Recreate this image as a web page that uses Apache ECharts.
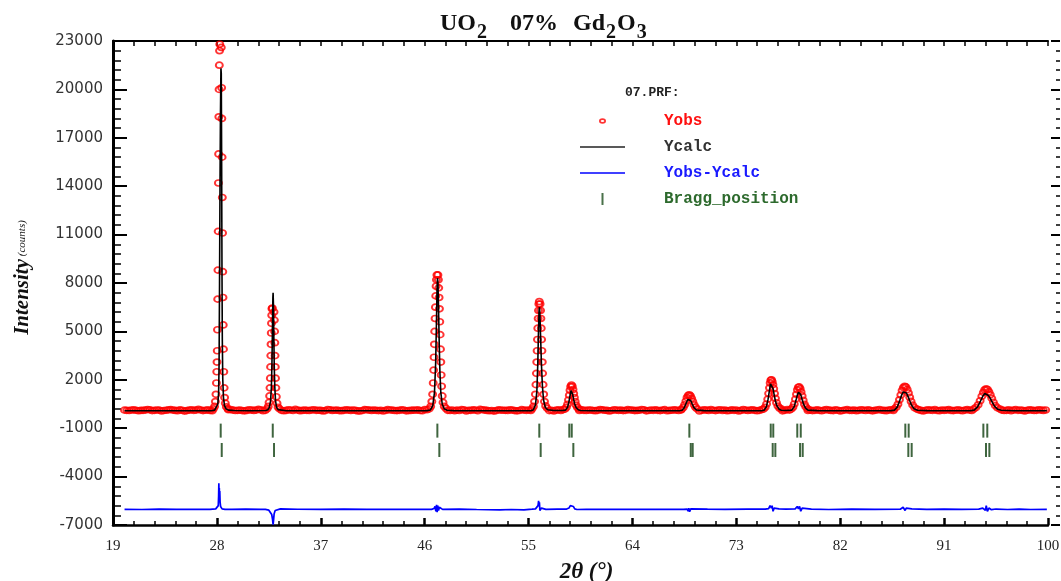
<!DOCTYPE html>
<html>
<head>
<meta charset="utf-8">
<title>UO2 07% Gd2O3</title>
<script src="https://cdn.jsdelivr.net/npm/echarts@6.0.0/dist/echarts.min.js"></script>
<style>
  html, body { margin: 0; padding: 0; background: #fff; }
  #chart { width: 1061px; height: 581px; }
</style>
</head>
<body>
<div id="chart"></div>
<script>
// axis ticks
const xTicks = [19, 28, 37, 46, 55, 64, 73, 82, 91, 100];
const yTicks = [-7000, -4000, -1000, 2000, 5000, 8000, 11000, 14000, 17000, 20000, 23000];

// Yobs background, one value every 0.2 deg starting at 20 deg
const bgStart = 20;
const bgStep = 0.2;
const bgObs = [
  120, 105, 95, 130, 140, 115, 80, 100, 110, 125, 160, 135, 90, 105, 130, 120, 70, 95, 115, 140,
  150, 125, 100, 85, 135, 110, 60, 90, 125, 140, 105, 120, 170, 130, 90, 115, 140, 100, 85, 125,
  110, 95, 80, 105, 130, 145, 155, 120, 95, 110, 120, 90, 75, 100, 145, 125, 100, 120, 165, 140,
  85, 110, 120, 95, 60, 105, 140, 125, 110, 80, 100, 145, 130, 95, 165, 120, 85, 100, 120, 105,
  95, 130, 145, 110, 115, 100, 70, 90, 160, 135, 100, 115, 125, 90, 85, 110, 140, 120, 100, 130,
  110, 70, 65, 95, 150, 140, 120, 100, 125, 105, 90, 110, 65, 100, 150, 130, 120, 95, 90, 110,
  135, 130, 75, 90, 100, 120, 115, 140, 95, 80, 160, 145, 110, 120, 135, 100, 90, 125, 150, 115,
  110, 100, 130, 80, 120, 95, 150, 140, 70, 105, 110, 135, 130, 80, 165, 145, 125, 100, 80, 95,
  60, 90, 135, 125, 115, 105, 100, 140, 120, 90, 75, 95, 150, 120, 110, 130, 100, 135, 115, 90,
  145, 110, 160, 120, 90, 105, 70, 125, 135, 100, 155, 130, 120, 95, 80, 110, 125, 100, 140, 105,
  100, 120, 130, 95, 85, 110, 155, 135, 115, 100, 70, 95, 145, 125, 105, 120, 90, 110, 150, 130,
  125, 90, 100, 115, 160, 140, 75, 95, 130, 110, 135, 105, 90, 120, 150, 80, 100, 115, 140, 125,
  95, 130, 80, 110, 150, 120, 105, 135, 95, 65, 110, 140, 125, 100, 155, 115, 90, 120, 145, 100,
  125, 85, 95, 140, 110, 130, 70, 100, 160, 120, 95, 125, 140, 105, 80, 110, 150, 135, 100, 115,
  90, 120, 145, 100, 130, 75, 110, 150, 125, 95, 105, 140, 85, 115, 160, 130, 100, 120, 90, 110,
  135, 105, 80, 120, 155, 125, 100, 90, 140, 115, 70, 95, 130, 150, 110, 100, 125, 85, 105, 145,
  120, 95, 140, 110, 75, 105, 130, 160, 115, 100, 85, 125, 145, 95, 110, 135, 120, 80, 100, 150,
  130, 110, 90, 125, 145, 100, 70, 115, 140, 120, 105, 155, 95, 85, 130, 110, 125, 150, 100, 90,
  115, 140, 105, 80, 125, 150, 120, 95, 110, 135, 100, 75, 145, 120, 90, 105, 130, 160, 115, 100,
  125, 95, 110, 140, 85, 120, 150, 105, 130, 100, 70, 115, 140, 125, 95, 110, 145, 120, 100, 130
];

// Yobs over each reflection, [2theta, counts]
const peakObs = [
  [[27.70, 200], [27.80, 350], [27.87, 650], [27.92, 1100], [27.96, 1800], [27.99, 2500], [28.01, 3100], [28.03, 3800],
   [28.05, 5100], [28.07, 7000], [28.09, 8800], [28.11, 11200], [28.13, 14200], [28.15, 16000], [28.17, 18300],
   [28.19, 20000], [28.21, 21500], [28.23, 22400], [28.25, 22800], [28.38, 22600], [28.41, 20100], [28.43, 18200],
   [28.45, 15800], [28.47, 13300], [28.49, 11100], [28.51, 8700], [28.53, 7100], [28.55, 5400], [28.57, 3900],
   [28.60, 2500], [28.63, 1500], [28.67, 900], [28.73, 550], [28.82, 320], [28.95, 200]],
  [[32.35, 200], [32.45, 350], [32.52, 600], [32.57, 1000], [32.60, 1500], [32.63, 2100], [32.65, 2800], [32.67, 3500],
   [32.69, 4200], [32.71, 4900], [32.73, 5500], [32.75, 6000], [32.77, 6400], [32.80, 6450], [32.95, 6200], [32.98, 5700],
   [33.00, 5000], [33.02, 4300], [33.04, 3500], [33.06, 2800], [33.08, 2100], [33.11, 1500], [33.15, 950], [33.21, 550],
   [33.30, 300], [33.42, 200]],
  [[46.40, 200], [46.52, 350], [46.62, 650], [46.69, 1100], [46.74, 1800], [46.78, 2600], [46.81, 3400], [46.84, 4200],
   [46.87, 5000], [46.90, 5800], [46.93, 6500], [46.96, 7200], [46.99, 7800], [47.02, 8200], [47.06, 8500], [47.15, 8500],
   [47.19, 8200], [47.22, 7700], [47.25, 7100], [47.28, 6400], [47.31, 5600], [47.34, 4800], [47.37, 3900], [47.40, 3100],
   [47.43, 2300], [47.47, 1600], [47.52, 1000], [47.59, 600], [47.70, 350], [47.85, 220]],
  [[55.30, 200], [55.42, 350], [55.52, 650], [55.59, 1100], [55.64, 1700], [55.68, 2400], [55.71, 3100], [55.74, 3800],
   [55.77, 4500], [55.80, 5200], [55.83, 5800], [55.86, 6300], [55.89, 6700], [55.93, 6850], [56.00, 6700], [56.04, 6300],
   [56.07, 5800], [56.10, 5200], [56.13, 4500], [56.16, 3800], [56.19, 3100], [56.22, 2400], [56.26, 1700], [56.31, 1100],
   [56.38, 650], [56.48, 380], [56.62, 230]],
  [[58.15, 180], [58.28, 300], [58.38, 480], [58.46, 750], [58.53, 1050], [58.59, 1350], [58.65, 1580], [58.72, 1680],
   [58.79, 1600], [58.85, 1400], [58.91, 1150], [58.97, 900], [59.04, 650], [59.12, 430], [59.23, 280], [59.38, 190]],
  [[68.25, 170], [68.40, 280], [68.52, 450], [68.63, 680], [68.73, 900], [68.83, 1030], [68.93, 1070], [69.03, 1000],
   [69.13, 850], [69.23, 650], [69.34, 450], [69.46, 300], [69.60, 200]],
  [[75.35, 180], [75.50, 300], [75.62, 500], [75.72, 800], [75.80, 1150], [75.87, 1500], [75.93, 1800], [75.99, 1980],
   [76.05, 2000], [76.11, 1880], [76.17, 1700], [76.24, 1450], [76.31, 1150], [76.39, 850], [76.48, 580], [76.60, 370],
   [76.75, 240], [76.92, 180]],
  [[77.75, 180], [77.90, 300], [78.02, 500], [78.12, 800], [78.21, 1100], [78.29, 1380], [78.37, 1540], [78.45, 1560],
   [78.53, 1450], [78.61, 1250], [78.70, 1000], [78.79, 730], [78.90, 480], [79.02, 320], [79.18, 200]],
  [[86.65, 180], [86.85, 300], [87.00, 480], [87.13, 760], [87.25, 1060], [87.36, 1340], [87.47, 1520], [87.58, 1600],
   [87.69, 1560], [87.80, 1400], [87.91, 1180], [88.02, 920], [88.14, 660], [88.28, 430], [88.45, 270], [88.65, 190]],
  [[93.55, 180], [93.75, 280], [93.95, 450], [94.12, 700], [94.27, 980], [94.40, 1220], [94.52, 1380], [94.64, 1440],
   [94.76, 1400], [94.88, 1260], [95.00, 1070], [95.13, 850], [95.27, 610], [95.43, 400], [95.62, 260], [95.85, 190]]
];

// Ycalc profile, [2theta, counts]
const calcPts = [
  [20.0, 85], [24.0, 80], [27.5, 85], [27.80, 120], [27.95, 200], [28.08, 500], [28.15, 1200], [28.19, 3000],
  [28.23, 8000], [28.27, 14000], [28.31, 18500], [28.35, 21300], [28.38, 21000], [28.41, 16000], [28.44, 9000],
  [28.47, 4500], [28.51, 2000], [28.57, 900], [28.66, 400], [28.80, 200], [29.0, 120], [29.5, 95], [31.0, 85],
  [32.20, 95], [32.40, 130], [32.55, 300], [32.65, 700], [32.72, 1500], [32.77, 3000], [32.81, 5000], [32.85, 7100],
  [32.87, 7400], [32.90, 6600], [32.93, 4800], [32.97, 2800], [33.02, 1500], [33.08, 700], [33.17, 300], [33.30, 150],
  [34.0, 85], [40.0, 80], [46.2, 90], [46.50, 130], [46.70, 400], [46.85, 1200], [46.95, 3000], [47.02, 5500],
  [47.07, 7500], [47.11, 8300], [47.15, 8000], [47.20, 6500], [47.26, 4300], [47.32, 2500], [47.40, 1200],
  [47.52, 500], [47.70, 200], [47.95, 110], [48.5, 90], [52.0, 80], [55.2, 90], [55.40, 130], [55.60, 450],
  [55.72, 1300], [55.80, 3000], [55.86, 5000], [55.91, 6300], [55.95, 6500], [55.99, 5900], [56.05, 4500],
  [56.12, 2900], [56.20, 1600], [56.30, 750], [56.45, 300], [56.65, 140], [57.2, 95], [57.9, 100], [58.20, 120],
  [58.38, 300], [58.50, 650], [58.60, 1050], [58.68, 1330], [58.75, 1330], [58.82, 1100], [58.90, 800], [59.00, 500],
  [59.12, 280], [59.30, 140], [59.50, 100], [60.5, 85], [64.0, 80], [68.1, 85], [68.30, 110], [68.50, 280],
  [68.66, 560], [68.80, 780], [68.93, 820], [69.05, 720], [69.18, 500], [69.33, 280], [69.55, 130], [70.2, 90],
  [73.0, 80], [75.2, 90], [75.40, 110], [75.60, 320], [75.75, 800], [75.87, 1350], [75.96, 1750], [76.03, 1850],
  [76.10, 1700], [76.18, 1450], [76.27, 1100], [76.38, 700], [76.52, 380], [76.70, 180], [76.90, 110], [77.3, 100],
  [77.80, 120], [78.00, 320], [78.15, 680], [78.27, 1020], [78.38, 1230], [78.48, 1250], [78.58, 1080], [78.70, 780],
  [78.84, 460], [79.00, 240], [79.20, 120], [80.0, 90], [84.0, 80], [86.4, 90], [86.70, 120], [86.95, 320],
  [87.15, 700], [87.32, 1050], [87.46, 1250], [87.60, 1300], [87.74, 1180], [87.88, 960], [88.02, 700], [88.18, 430],
  [88.40, 210], [88.70, 110], [89.5, 90], [92.0, 80], [93.3, 90], [93.60, 120], [93.90, 320], [94.15, 680],
  [94.35, 980], [94.52, 1150], [94.68, 1160], [94.84, 1030], [95.00, 850], [95.18, 600], [95.38, 350], [95.65, 170],
  [95.95, 110], [97.0, 85], [99.9, 80]
];

// Yobs-Ycalc curve as drawn (shifted down), [2theta, counts]
const diffPts = [
  [20.0, -6030], [21.5, -6040], [23.0, -6020], [24.5, -6035], [26.0, -6025], [27.4, -6030], [27.9, -6000],
  [28.05, -5950], [28.12, -5800], [28.15, -5200], [28.17, -4420], [28.19, -5100], [28.21, -4700], [28.23, -5400],
  [28.25, -4900], [28.28, -5600], [28.32, -5850], [28.38, -5900], [28.45, -6000], [28.55, -5950], [28.7, -6030],
  [29.3, -6030], [30.5, -6020], [31.8, -6030], [32.2, -6030], [32.5, -6080], [32.65, -6200], [32.75, -6350],
  [32.82, -6650], [32.87, -6980], [32.91, -6700], [32.96, -6300], [33.05, -6100], [33.2, -6020], [33.5, -6000],
  [35.0, -6025], [37.0, -6035], [39.0, -6020], [41.0, -6030], [43.0, -6025], [45.0, -6035], [46.6, -6030],
  [46.8, -5980], [46.9, -5850], [46.97, -6150], [47.03, -5750], [47.08, -6200], [47.14, -5800], [47.2, -6100],
  [47.28, -5900], [47.38, -6000], [47.55, -6030], [49.0, -6020], [50.5, -6040], [52.5, -6060], [53.5, -6040],
  [54.6, -6060], [55.3, -6020], [55.6, -6000], [55.75, -5950], [55.82, -5800], [55.87, -5500], [55.9, -5850],
  [55.94, -5600], [55.98, -6100], [56.05, -6150], [56.12, -5950], [56.25, -6050], [56.5, -6030], [57.5, -6020],
  [58.3, -6010], [58.5, -5950], [58.62, -5800], [58.7, -5750], [58.78, -5900], [58.88, -5850], [59.0, -6000],
  [59.2, -6040], [60.0, -6030], [63.0, -6025], [66.0, -6030], [68.4, -6030], [68.75, -6020], [68.82, -6150],
  [68.88, -5950], [68.95, -6180], [69.05, -6000], [69.2, -6040], [70.5, -6020], [72.0, -6030], [74.0, -6020],
  [75.5, -6020], [75.8, -5980], [75.92, -5800], [75.98, -5750], [76.04, -5950], [76.1, -5800], [76.18, -6150],
  [76.28, -5950], [76.4, -6040], [76.7, -6000], [77.3, -6010], [78.1, -6000], [78.28, -5850], [78.38, -6000],
  [78.48, -5850], [78.58, -6150], [78.7, -5950], [78.85, -6040], [79.5, -6020], [81.0, -6040], [83.0, -6020],
  [85.0, -6030], [87.2, -6020], [87.45, -5900], [87.55, -5800], [87.62, -6100], [87.72, -5950], [87.85, -6050],
  [88.2, -6000], [89.5, -6030], [91.0, -6020], [92.5, -6030], [94.0, -6020], [94.35, -5950], [94.5, -5850],
  [94.58, -6100], [94.65, -5800], [94.75, -6150], [94.88, -5950], [95.1, -6050], [95.5, -6010], [96.5, -6040],
  [97.5, -6020], [98.5, -6040], [99.9, -6030]
];

// Bragg reflections, two rows of markers
const braggRow1 = [28.33, 32.84, 47.10, 55.93, 58.53, 58.74, 68.93, 75.98, 76.20, 78.28, 78.58, 87.64, 87.93, 94.40, 94.74];
const braggRow2 = [28.42, 32.95, 47.27, 56.05, 58.88, 69.05, 69.22, 76.15, 76.38, 78.52, 78.75, 87.90, 88.19, 94.63, 94.92];
const braggLevels = [-1150, -2350];

// join background and peak points (skip background inside a peak)
const peakRanges = peakObs.map(p => [p[0][0], p[p.length - 1][0]]);
const obsData = [];
bgObs.forEach((v, i) => {
  const x = +(bgStart + i * bgStep).toFixed(2);
  if (!peakRanges.some(r => x >= r[0] && x <= r[1])) obsData.push([x, v]);
});
peakObs.forEach(p => p.forEach(pt => obsData.push(pt)));

const braggData = braggRow1.map(x => [x, braggLevels[0]])
  .concat(braggRow2.map(x => [x, braggLevels[1]]));

// legend icons (padded to a 45x12 box)
const ringIcon = 'path://M0,0M45,12M19,6a3.5,2.8 0 1,1 7,0a3.5,2.8 0 1,1 -7,0ZM20.7,6a1.8,1.1 0 1,0 3.6,0a1.8,1.1 0 1,0 -3.6,0Z';
const lineIcon = 'path://M0,0M45,12M0,5.2L45,5.2L45,6.8L0,6.8Z';
const tickIcon = 'path://M0,0M45,12M21.5,0L23.5,0L23.5,12L21.5,12Z';

const chart = echarts.init(document.getElementById('chart'));

const option = {
  animation: false,
  backgroundColor: '#fff',
  title: [{
    text: '{a|UO}{s|2}{g| }{a|07%}{h| }{a|Gd}{s|2}{a|O}{s|3}',
    left: 440,
    top: 4,
    padding: 0,
    textStyle: {
      rich: {
        a: { fontFamily: 'Liberation Serif', fontSize: 24, fontWeight: 'bold', color: '#111' },
        s: { fontFamily: 'Liberation Serif', fontSize: 20, fontWeight: 'bold', color: '#111', padding: [19, 1, 0, 1] },
        g: { fontSize: 12, width: 22 },
        h: { fontSize: 12, width: 15 }
      }
    }
  }, {
    text: '07.PRF:',
    left: 625,
    top: 86,
    padding: 0,
    textStyle: { fontFamily: 'Liberation Mono', fontSize: 13, fontWeight: 'bold', color: '#222' }
  }],
  legend: {
    orient: 'vertical',
    left: 580,
    top: 113,
    padding: 0,
    itemWidth: 45,
    itemHeight: 12,
    itemGap: 10,
    selectedMode: false,
    textStyle: { fontFamily: 'Liberation Mono', fontSize: 16, fontWeight: 'bold', lineHeight: 14, padding: [0, 0, 0, 34] },
    data: [
      { name: 'Yobs', icon: ringIcon, itemStyle: { color: '#ff0000', borderWidth: 0 }, textStyle: { color: '#ff1010' } },
      { name: 'Ycalc', icon: lineIcon, itemStyle: { color: '#222', borderWidth: 0 }, textStyle: { color: '#333' } },
      { name: 'Yobs-Ycalc', icon: lineIcon, itemStyle: { color: '#0000ff', borderWidth: 0 }, textStyle: { color: '#1a1aff' } },
      { name: 'Bragg_position', icon: tickIcon, itemStyle: { color: '#1d4d1d', borderWidth: 0 }, textStyle: { color: '#2d6a2d' } }
    ]
  },
  grid: { left: 113, right: 13, top: 41, bottom: 56, outerBoundsMode: 'none' },
  xAxis: [{
    type: 'value',
    position: 'bottom',
    min: xTicks[0],
    max: xTicks[xTicks.length - 1],
    interval: xTicks[1] - xTicks[0],
    name: '2θ (°)',
    nameLocation: 'middle',
    nameGap: 36,
    nameTextStyle: { fontFamily: 'Liberation Serif', fontSize: 23, fontWeight: 'bold', fontStyle: 'italic', color: '#111', padding: [0, 0, 0, 12] },
    axisLine: { show: true, onZero: false, lineStyle: { color: '#000', width: 2.5 } },
    axisTick: { show: true, inside: true, length: 7, lineStyle: { color: '#000', width: 2.5 } },
    minorTick: { show: true, splitNumber: 5, length: 4, lineStyle: { color: '#000', width: 1.5 } },
    axisLabel: { fontFamily: 'Liberation Serif', fontSize: 15, color: '#222', margin: 14 },
    splitLine: { show: false }
  }, {
    type: 'value',
    position: 'top',
    min: xTicks[0],
    max: xTicks[xTicks.length - 1],
    interval: (xTicks[1] - xTicks[0]) / 5,
    axisLine: { show: true, onZero: false, lineStyle: { color: '#000', width: 2 } },
    axisTick: { show: true, inside: true, length: 5, lineStyle: { color: '#000', width: 1.5 } },
    axisLabel: { show: false },
    splitLine: { show: false }
  }],
  yAxis: [{
    type: 'value',
    position: 'left',
    min: yTicks[0],
    max: yTicks[yTicks.length - 1],
    interval: yTicks[1] - yTicks[0],
    name: '{a|Intensity}{b| (counts)}',
    nameLocation: 'middle',
    nameGap: 80,
    nameTextStyle: {
      padding: [0, 0, 0, 11],
      rich: {
        a: { fontFamily: 'Liberation Serif', fontSize: 21, fontWeight: 'bold', fontStyle: 'italic', color: '#111' },
        b: { fontFamily: 'Liberation Serif', fontSize: 11, fontStyle: 'italic', color: '#111' }
      }
    },
    axisLine: { show: true, onZero: false, lineStyle: { color: '#000', width: 3 } },
    axisTick: { show: true, inside: true, length: 14, lineStyle: { color: '#000', width: 2 } },
    minorTick: { show: true, splitNumber: 5, length: 8, lineStyle: { color: '#000', width: 1.5 } },
    axisLabel: { fontFamily: 'DejaVu Sans', fontSize: 15, color: '#333', margin: 10, formatter: v => String(v) },
    splitLine: { show: false }
  }, {
    type: 'value',
    position: 'right',
    offset: 12,
    min: yTicks[0],
    max: yTicks[yTicks.length - 1],
    interval: yTicks[1] - yTicks[0],
    axisLine: { show: false },
    axisTick: { show: true, inside: true, length: 9, lineStyle: { color: '#000', width: 2 } },
    minorTick: { show: true, splitNumber: 5, length: 4, lineStyle: { color: '#000', width: 1.5 } },
    axisLabel: { show: false },
    splitLine: { show: false }
  }],
  series: [{
    name: 'Yobs',
    type: 'scatter',
    data: obsData,
    symbol: 'circle',
    symbolSize: [7, 6],
    itemStyle: { color: 'rgba(0,0,0,0)', borderColor: '#ff0000', borderWidth: 1.8 },
    silent: true,
    z: 2
  }, {
    name: 'Ycalc',
    type: 'line',
    data: calcPts,
    symbol: 'none',
    color: '#000',
    lineStyle: { color: '#000', width: 1.6 },
    itemStyle: { color: '#000' },
    silent: true,
    z: 3
  }, {
    name: 'Yobs-Ycalc',
    type: 'line',
    data: diffPts,
    symbol: 'none',
    color: '#0000ff',
    lineStyle: { color: '#0000ff', width: 1.7 },
    itemStyle: { color: '#0000ff' },
    silent: true,
    z: 3
  }, {
    name: 'Bragg_position',
    type: 'scatter',
    data: braggData,
    symbol: 'rect',
    symbolSize: [2, 14],
    itemStyle: { color: '#0f3f0f' },
    silent: true,
    z: 3
  }]
};

chart.setOption(option);
</script>
</body>
</html>
